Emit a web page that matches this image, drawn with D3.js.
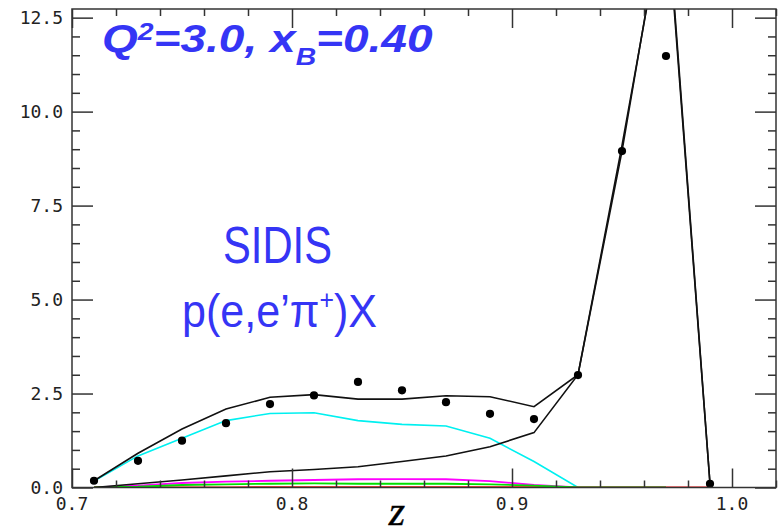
<!DOCTYPE html>
<html>
<head>
<meta charset="utf-8">
<script src="https://cdn.jsdelivr.net/npm/d3@7"></script>
<style>
  html, body { margin: 0; padding: 0; background: #fff; }
  svg { display: block; }
</style>
</head>
<body>
<svg id="chart" width="783" height="529"></svg>
<script>
// ---------------- data ----------------
const zValues   = [0.71, 0.73, 0.75, 0.77, 0.79, 0.81, 0.83, 0.85, 0.87, 0.89, 0.91, 0.93, 0.95, 0.97, 0.99];
const dataPts   = [0.18, 0.71, 1.245, 1.71, 2.22, 2.45, 2.81, 2.585, 2.27, 1.96, 1.82, 2.99, 8.95, 11.48, 0.10];
const totalLine = [0.18, 0.91, 1.556, 2.088, 2.40, 2.47, 2.35, 2.35, 2.44, 2.415, 2.15, 3.0, 8.95, 15.8, 0.10];
const lowerLine = [0.0, 0.10, 0.20, 0.31, 0.42, 0.48, 0.55, 0.69, 0.84, 1.085, 1.46, 3.0, 9.1, 15.6, 0.10];
const cyanLine  = [0.17, 0.84, 1.31, 1.78, 1.97, 1.99, 1.78, 1.68, 1.635, 1.31, 0.69, 0.0, null, null, null];
const magentaLine = [0.0, 0.05, 0.12, 0.155, 0.18, 0.20, 0.22, 0.225, 0.22, 0.17, 0.066, 0.0, 0.0, 0.0, null];
const redLine   = [0.0, 0.0, 0.0, 0.005, 0.01, 0.01, 0.01, 0.01, 0.01, 0.01, 0.01, 0.0, 0.0, 0.0, 0.0];
const greenLine = [0.0, 0.02, 0.066, 0.085, 0.10, 0.11, 0.10, 0.10, 0.10, 0.085, 0.05, 0.0, 0.0, 0.0, null];
const xMajorTicks = [0.7, 0.8, 0.9, 1.0];
const xTickLabels = ["0.7", "0.8", "0.9", "1.0"];
const yMajorTicks = [0.0, 2.5, 5.0, 7.5, 10.0, 12.5];
const yTickLabels = ["0.0", "2.5", "5.0", "7.5", "10.0", "12.5"];

// ---------------- layout ----------------
const L = 72, R = 776, T = 9, B = 487.5;
const svg = d3.select("#chart");
const x = d3.scaleLinear().domain([0.7, 1.02]).range([L, R]);
const y = d3.scaleLinear().domain([0, 12.73]).range([B, T]);

const axisColor = "#333";
const blue = "#3535f5";

svg.append("defs").append("clipPath").attr("id", "plotclip")
  .append("rect").attr("x", L).attr("y", T).attr("width", R - L).attr("height", B - T);

const plot = svg.append("g").attr("clip-path", "url(#plotclip)");

function series(vals) {
  return zValues.map((z, i) => ({ z: z, v: vals[i] }));
}
const line = d3.line().defined(d => d.v !== null).x(d => x(d.z)).y(d => y(d.v));

function drawLine(vals, color, w) {
  plot.append("path").datum(series(vals))
    .attr("d", line).attr("fill", "none")
    .attr("stroke", color).attr("stroke-width", w)
    .attr("stroke-linejoin", "miter");
}
drawLine(cyanLine, "#00f0f0", 1.6);
drawLine(magentaLine, "#ff00ff", 1.8);
drawLine(redLine, "#ff0000", 1.8);
drawLine(greenLine, "#00e000", 1.8);
drawLine(lowerLine, "#111", 1.6);
drawLine(totalLine, "#111", 1.6);

plot.selectAll("circle.pt").data(series(dataPts)).enter().append("circle")
  .attr("class", "pt")
  .attr("cx", d => x(d.z)).attr("cy", d => y(d.v)).attr("r", 4.1)
  .attr("fill", "#000");

// ---------------- frame & ticks ----------------
const axes = svg.append("g");
const xMinor = d3.range(0.72, 1.02, 0.02).filter(v => !xMajorTicks.some(m => Math.abs(m - v) < 1e-6));
const bottomMajor = d3.axisBottom(x).tickValues(xMajorTicks).tickSize(-19).tickFormat("");
const bottomMinor = d3.axisBottom(x).tickValues(xMinor).tickSize(-7).tickFormat("");
const topMajor = d3.axisTop(x).tickValues(xMajorTicks).tickSize(-19).tickFormat("");
const topMinor = d3.axisTop(x).tickValues(xMinor).tickSize(-7).tickFormat("");
const yMinor = d3.range(0.5, 12.73, 0.5).filter(v => !yMajorTicks.some(m => Math.abs(m - v) < 1e-6));
const leftMajor = d3.axisLeft(y).tickValues(yMajorTicks).tickSize(-21).tickFormat("");
const leftMinor = d3.axisLeft(y).tickValues(yMinor).tickSize(-8).tickFormat("");
const rightMajor = d3.axisRight(y).tickValues(yMajorTicks).tickSize(-21).tickFormat("");
const rightMinor = d3.axisRight(y).tickValues(yMinor).tickSize(-8).tickFormat("");

function addAxis(ax, tx, ty) {
  const g = axes.append("g").attr("transform", `translate(${tx},${ty})`).call(ax);
  g.select(".domain").remove();
  g.selectAll(".tick line").attr("stroke", axisColor).attr("stroke-width", 1.5);
  return g;
}
addAxis(bottomMajor, 0, B); addAxis(bottomMinor, 0, B);
addAxis(topMajor, 0, T); addAxis(topMinor, 0, T);
addAxis(leftMajor, L, 0); addAxis(leftMinor, L, 0);
addAxis(rightMajor, R, 0); addAxis(rightMinor, R, 0);

axes.append("rect").attr("x", L).attr("y", T).attr("width", R - L).attr("height", B - T)
  .attr("fill", "none").attr("stroke", axisColor).attr("stroke-width", 1.5);

// tick labels
const labelFont = "'DejaVu Sans Mono', monospace";
svg.append("g").selectAll("text").data(xMajorTicks).enter().append("text")
  .attr("x", d => x(d)).attr("y", 510)
  .attr("text-anchor", "middle")
  .attr("font-family", labelFont).attr("font-size", 18).attr("fill", "#222")
  .text((d, i) => xTickLabels[i]);
svg.append("g").selectAll("text").data(yMajorTicks).enter().append("text")
  .attr("x", 63).attr("y", d => y(d) + 6.5)
  .attr("text-anchor", "end")
  .attr("font-family", labelFont).attr("font-size", 18).attr("fill", "#222")
  .text((d, i) => yTickLabels[i]);

// axis title
svg.append("text").attr("x", 397).attr("y", 525).attr("text-anchor", "middle")
  .attr("font-family", "'Liberation Serif', 'DejaVu Serif', serif")
  .attr("font-style", "italic").attr("font-size", 42).attr("fill", "#000")
  .attr("stroke", "#000").attr("stroke-width", 0.4)
  .text("z");

// ---------------- annotations ----------------
function fit(sel, x0, width) {
  const bb = sel.node().getBBox();
  const k = width / bb.width;
  sel.attr("transform", `translate(${x0},0) scale(${k},1) translate(${-bb.x},0)`);
}

const title = svg.append("text").attr("x", 0).attr("y", 52)
  .attr("font-family", "'Liberation Sans', Arial, sans-serif")
  .attr("font-weight", "bold").attr("font-style", "italic")
  .attr("font-size", 39).attr("fill", blue);
title.append("tspan").text("Q");
title.append("tspan").attr("font-size", 24).attr("dy", -12).text("2");
title.append("tspan").attr("dy", 12).text("=3.0, x");
title.append("tspan").attr("font-size", 24).attr("dy", 13).text("B");
title.append("tspan").attr("dy", -13).text("=0.40");
fit(title, 102, 331);

const t1 = svg.append("text").attr("x", 0).attr("y", 263)
  .attr("font-family", "'Liberation Sans', Arial, sans-serif")
  .attr("font-size", 51).attr("fill", blue).text("SIDIS");
fit(t1, 223, 109);

const t2 = svg.append("text").attr("x", 0).attr("y", 327)
  .attr("font-family", "'Liberation Sans', Arial, sans-serif")
  .attr("font-size", 47).attr("fill", blue);
t2.append("tspan").text("p(e,e\u2019\u03c0");
t2.append("tspan").attr("font-size", 27).attr("dy", -18).text("+");
t2.append("tspan").attr("dy", 18).text(")X");
fit(t2, 182, 195);
</script>
</body>
</html>
